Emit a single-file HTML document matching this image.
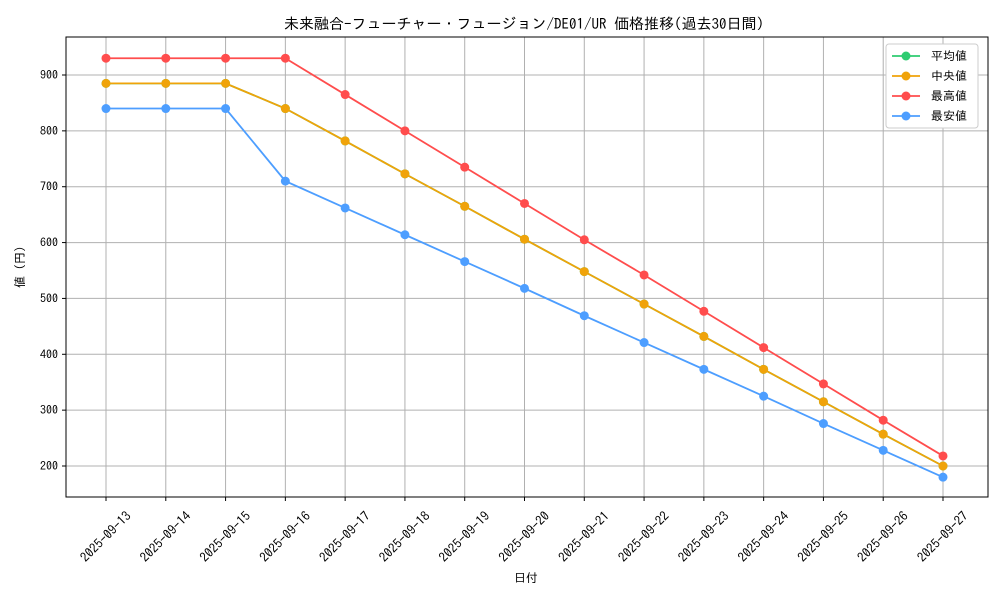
<!DOCTYPE html>
<html><head><meta charset="utf-8"><style>
body{margin:0;background:#fff;}
svg text{font-family:"IPAGothic","Noto Sans CJK JP",monospace;fill:#000;}
</style></head><body>
<svg id="chart" width="1000" height="600" viewBox="0 0 1000 600" xmlns="http://www.w3.org/2000/svg">
<text x="524" y="29" font-size="15" text-anchor="middle">未来融合-フューチャー・フュージョン/DE01/UR 価格推移(過去30日間)</text>
<g id="grid"></g>
<rect x="66" y="37" width="922" height="460" fill="none" stroke="#000" stroke-width="1"/>
<g id="axes"></g>
<g id="series"></g>
<text x="526" y="582" font-size="12" text-anchor="middle">日付</text>
<text x="0" y="0" font-size="12" text-anchor="middle" transform="translate(24,267) rotate(-90)">値 (円)</text>
<g>
<rect x="886" y="44" width="92" height="84" fill="#fff" stroke="#ccc" rx="3"/>
<g id="legend"></g>
</g>
</svg>
<script>
const categories=["2025-09-13","2025-09-14","2025-09-15","2025-09-16","2025-09-17","2025-09-18","2025-09-19","2025-09-20","2025-09-21","2025-09-22","2025-09-23","2025-09-24","2025-09-25","2025-09-26","2025-09-27"];
const avgValues=[885,885,885,840,782,723,665,606,548,490,432,373,315,257,200];
const medianValues=[885,885,885,840,782,723,665,606,548,490,432,373,315,257,200];
const maxValues=[930,930,930,930,865,800,735,670,605,542,477,412,347,282,218];
const minValues=[840,840,840,710,662,614,566,518,469,421,373,325,276,228,180];
const yTicks=[200,300,400,500,600,700,800,900];
const seriesNames=["平均値","中央値","最高値","最安値"];
const ns="http://www.w3.org/2000/svg";
function xs(i){return 106+i*(943-106)/(categories.length-1);}
function ys(v){return 466-(v-200)*(466-75)/700;}
function mk(tag,attrs,parent){const e=document.createElementNS(ns,tag);for(const k in attrs)e.setAttribute(k,attrs[k]);parent.appendChild(e);return e;}
const grid=document.getElementById('grid'),axes=document.getElementById('axes'),ser=document.getElementById('series'),leg=document.getElementById('legend');
categories.forEach((c,i)=>{
 const l=mk('line',{x1:xs(i),x2:xs(i),y1:37,y2:497,stroke:'#b0b0b0','stroke-width':1},grid);
 
 
 mk('line',{x1:xs(i),x2:xs(i),y1:497,y2:501,stroke:'#000'},axes);
 const t=mk('text',{x:0,y:4,'font-size':13,'text-anchor':'middle',transform:`translate(${xs(i)},${537}) rotate(-45)`},axes);
 t.textContent=c;
 
 
});
yTicks.forEach(v=>{
 const l=mk('line',{x1:66,x2:988,y1:ys(v),y2:ys(v),stroke:'#b0b0b0','stroke-width':1},grid);
 
 
 mk('line',{x1:62,x2:66,y1:ys(v),y2:ys(v),stroke:'#000'},axes);
 const t=mk('text',{x:58,y:ys(v)+4,'font-size':12,'text-anchor':'end'},axes);
 t.textContent=v;
 
 
});
const series=[[avgValues,'#2ecc71'],[medianValues,'#f0a30a'],[maxValues,'#ff4d4d'],[minValues,'#4d9eff']];
series.forEach(([vals,col],si)=>{
 const g=mk('g',{},ser);
 
 
 mk('polyline',{points:vals.map((v,i)=>xs(i)+','+ys(v)).join(' '),fill:'none',stroke:col,'stroke-width':1.8},g);
 vals.forEach((v,i)=>{
  const c=mk('circle',{cx:xs(i),cy:ys(v),r:4.5,fill:col},g);
  
  
 });
 const y=56+si*20;
 const e=mk('g',{},leg);
 
 
 mk('line',{x1:892,x2:920,y1:y,y2:y,stroke:col,'stroke-width':1.8},e);
 mk('circle',{cx:906,cy:y,r:4.5,fill:col},e);
 const t=mk('text',{x:931,y:y+4,'font-size':12},e);
 t.textContent=seriesNames[si];
});
</script>
</body></html>
